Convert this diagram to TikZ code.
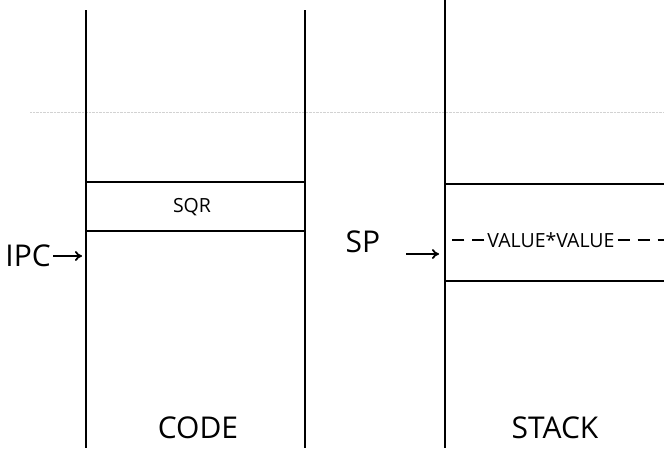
\documentclass[tikz,border=0pt]{standalone}
\usepackage{fontspec}
\setmainfont{Open Sans}
\usetikzlibrary{arrows.meta,positioning}

\begin{document}
\begin{tikzpicture}[x=1pt,y=-1pt,>={To[length=7pt,width=10pt]},
  wall/.style={line width=2.6pt},
  slot/.style={line width=2.6pt},
  ptr/.style={line width=1.8pt,->},
  cut/.style={line width=1.6pt,dash pattern=on 12pt off 8pt},
  big/.style={font=\fontsize{30}{30}\selectfont,inner sep=0pt},
  small/.style={font=\fontsize{19.5}{19.5}\selectfont,inner sep=3pt}]
\useasboundingbox (0,0) rectangle (664,448);
% faint scan line
\draw[gray!35,densely dotted] (30,112) -- (664,112);
% code area
\draw[wall] (86,10) -- (86,448);
\draw[wall] (305,10) -- (305,448);
\draw[slot] (86,182) -- (305,182);
\draw[slot] (86,231) -- (305,231);
\node[small] (sqr) at (192,207) {SQR};
\node[big,anchor=east] (ipc) at (51,256) {IPC};
\coordinate (ipcptr) at (82,256);
\draw[ptr,shorten <=2pt] (ipc.east) -- (ipcptr);
\node[big,anchor=base] (code) at (198,438) {CODE};
% stack area
\draw[wall] (445,0) -- (445,448);
\draw[slot] (445,184) -- (664,184);
\draw[slot] (445,281) -- (664,281);
\node[small] (val) at (551,240) {VALUE*VALUE};
\draw[cut] (val.west) -- (445,240);
\draw[cut] (val.east) -- (664,240);
\node[big] (sp) at (363,242) {SP};
\coordinate (spptr) at (439,254);
\draw[ptr,shorten <=26pt] (sp.east |- spptr) -- (spptr);
\node[big,anchor=base] (stack) at (555,438) {STACK};
\end{tikzpicture}
\end{document}
